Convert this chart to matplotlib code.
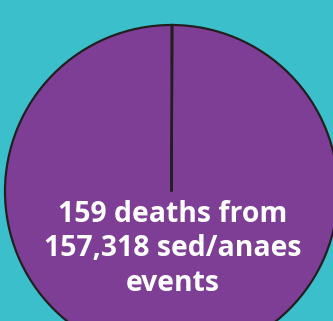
import matplotlib.pyplot as plt

# sedation / anaesthesia outcomes
total_events = 157318
deaths = 159
labels = ['Deaths', 'Survived']
values = [deaths, total_events - deaths]

teal = '#3bbfca'
purple = '#7f3e95'
outline = '#231f20'

fig = plt.figure(figsize=(3.33, 3.21), dpi=100)
fig.patch.set_facecolor(teal)
ax = fig.add_axes([0, 0, 1, 1])
ax.set_facecolor(teal)

ax.pie(values, colors=[purple, purple], startangle=90, counterclock=False,
       center=(171.5, 129.5), radius=166.5,
       wedgeprops={'edgecolor': outline, 'linewidth': 1.6})

ax.set_xlim(0, 333)
ax.set_ylim(0, 321)
ax.set_aspect('equal')
ax.axis('off')

ax.text(172.5, 72, f'{deaths} deaths from\n{total_events:,} sed/anaes\nevents',
        ha='center', va='center', multialignment='center', color='white',
        fontsize=20.4, fontweight='bold', family=['Open Sans', 'DejaVu Sans'],
        linespacing=1.27)

fig.savefig('out.png', dpi=100, facecolor=teal)
